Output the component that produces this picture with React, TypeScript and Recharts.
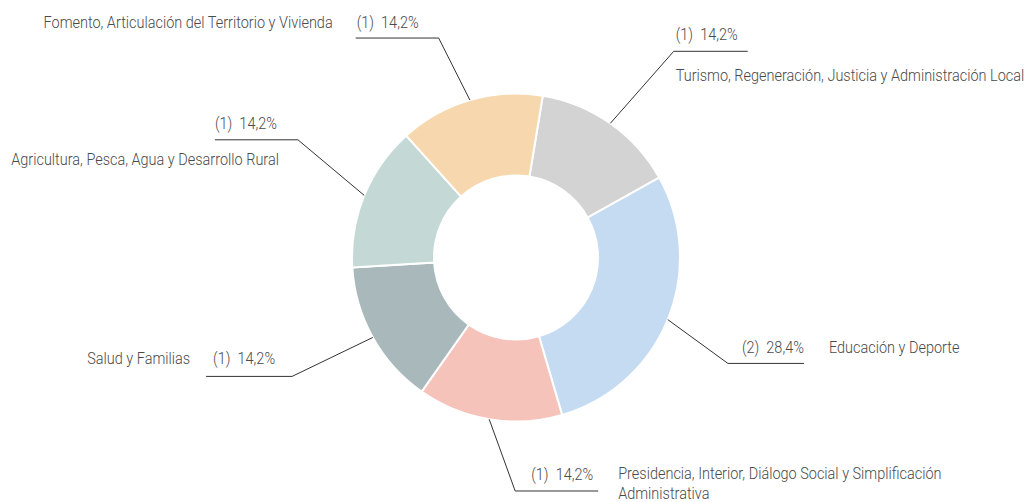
import React from 'react';
import { PieChart, Pie, Cell } from 'recharts';

const categories = [
  'Turismo, Regeneración, Justicia y Administración Local',
  'Educación y Deporte',
  'Presidencia, Interior, Diálogo Social y Simplificación Administrativa',
  'Salud y Familias',
  'Agricultura, Pesca, Agua y Desarrollo Rural',
  'Fomento, Articulación del Territorio y Vivienda',
];
const counts = [1, 2, 1, 1, 1, 1];
const percentLabels = ['14,2%', '28,4%', '14,2%', '14,2%', '14,2%', '14,2%'];
const colors = ['#d3d3d3', '#c5dbf2', '#f5c3ba', '#a9b8ba', '#c4d9d5', '#f7d7ae'];

const data = categories.map((name, i) => ({
  name,
  value: counts[i],
  pct: percentLabels[i],
}));

type Anchor = 'start' | 'end';
interface LabelLayout {
  dA: number;
  dR: number;
  dir: number;
  len: number;
  pct: { anchor: Anchor; dx: number; dy: number };
  nm: { anchor: Anchor; dx: number; dy: number };
  wrap?: number;
}

const labelLayout: LabelLayout[] = [
  { dA: 2.3, dR: 95.6, dir: 1, len: 74, pct: { anchor: 'start', dx: 2, dy: -17 }, nm: { anchor: 'start', dx: 2, dy: 24 } },
  { dA: 4.3, dR: 72.9, dir: 1, len: 76, pct: { anchor: 'end', dx: 76, dy: -16 }, nm: { anchor: 'start', dx: 101, dy: -16 } },
  { dA: -9.2, dR: 69.5, dir: 1, len: 83, pct: { anchor: 'end', dx: 78, dy: -16 }, nm: { anchor: 'start', dx: 103, dy: -17 }, wrap: 55 },
  { dA: 1.2, dR: 89.5, dir: -1, len: 86, pct: { anchor: 'start', dx: -79, dy: -18 }, nm: { anchor: 'end', dx: -102, dy: -18 } },
  { dA: 6.1, dR: 83.8, dir: -1, len: 83, pct: { anchor: 'start', dx: -83, dy: -16 }, nm: { anchor: 'end', dx: -19, dy: 20 } },
  { dA: -3.1, dR: 68.7, dir: -1, len: 83, pct: { anchor: 'start', dx: -82, dy: -15 }, nm: { anchor: 'end', dx: -106, dy: -15 } },
];

const RAD = Math.PI / 180;
const FONT = 'Roboto, sans-serif';
const TEXT_COLOR = '#4a4a4a';
const LINE_COLOR = '#333';
const SCALE_X = 0.905;
const FONT_SIZE = 16;
const LINE_HEIGHT = 20;

function wrapText(text: string, max?: number): string[] {
  if (!max || text.length <= max) return [text];
  const words = text.split(' ');
  const lines: string[] = [];
  let cur = '';
  for (const w of words) {
    const next = cur ? cur + ' ' + w : w;
    if (next.length > max && cur) {
      lines.push(cur);
      cur = w;
    } else cur = next;
  }
  if (cur) lines.push(cur);
  return lines;
}

function Txt({ x, y, anchor, children }: { x: number; y: number; anchor: Anchor; children: React.ReactNode }) {
  return (
    <g transform={`translate(${x},${y}) scale(${SCALE_X},1)`}>
      <text
        x={0}
        y={0}
        textAnchor={anchor}
        dominantBaseline="central"
        fontFamily={FONT}
        fontWeight={300}
        fontSize={FONT_SIZE}
        fill={TEXT_COLOR}
        style={{ whiteSpace: 'pre' }}
      >
        {children}
      </text>
    </g>
  );
}

const renderLabel = (props: any) => {
  const { cx, cy, midAngle, outerRadius, index } = props;
  const lay = labelLayout[index];
  const p = data[index];
  const sx = cx + outerRadius * Math.cos(-midAngle * RAD);
  const sy = cy + outerRadius * Math.sin(-midAngle * RAD);
  const ka = midAngle - lay.dA;
  const kr = outerRadius + lay.dR;
  const kx = cx + kr * Math.cos(-ka * RAD);
  const ky = cy + kr * Math.sin(-ka * RAD);
  const ex = kx + lay.dir * lay.len;
  const lines = wrapText(p.name, lay.wrap);
  return (
    <g key={`lbl-${index}`}>
      <polyline points={`${sx},${sy} ${kx},${ky} ${ex},${ky}`} fill="none" stroke={LINE_COLOR} strokeWidth={1} />
      <Txt x={kx + lay.pct.dx} y={ky + lay.pct.dy} anchor={lay.pct.anchor}>
        {`(${p.value})  ${p.pct}`}
      </Txt>
      {lines.map((ln, j) => (
        <Txt key={j} x={kx + lay.nm.dx} y={ky + lay.nm.dy + j * LINE_HEIGHT} anchor={lay.nm.anchor}>
          {ln}
        </Txt>
      ))}
    </g>
  );
};

export default function App() {
  return (
    <div style={{ position: 'absolute', left: 0, top: 0, width: 1026, height: 502, background: '#fff' }}>
      <PieChart width={1026} height={502} margin={{ top: 0, right: 0, bottom: 0, left: 0 }}>
        <Pie
          data={data}
          dataKey="value"
          nameKey="name"
          cx={516}
          cy={257.5}
          innerRadius={82}
          outerRadius={164}
          startAngle={80.6}
          endAngle={-279.4}
          stroke="#fff"
          strokeWidth={2}
          isAnimationActive={false}
          label={renderLabel}
          labelLine={false}
        >
          {data.map((d, i) => (
            <Cell key={d.name} fill={colors[i]} />
          ))}
        </Pie>
      </PieChart>
    </div>
  );
}
